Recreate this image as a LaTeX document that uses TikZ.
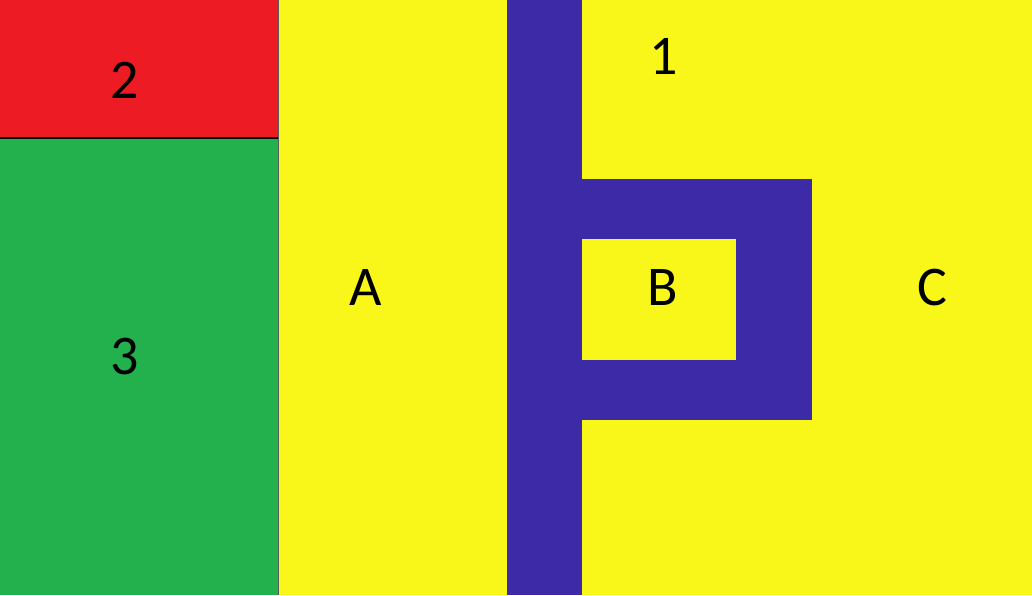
\documentclass[tikz,border=0pt]{standalone}
\usepackage{fontspec}
\setmainfont{Carlito}
\definecolor{cred}{HTML}{ED1C24}
\definecolor{cgreen}{HTML}{22B14C}
\definecolor{cyellow}{HTML}{F9F71A}
\definecolor{cblue}{HTML}{3D2AA6}
\tikzset{lbl/.style={font=\fontsize{56}{60}\selectfont, text=black, inner sep=0pt}}
\begin{document}
\begin{tikzpicture}[x=1pt,y=-1pt]
\useasboundingbox (0,0) rectangle (1032,595);
\fill[cyellow] (0,0) rectangle (1032,595);
\fill[cred] (0,0) rectangle (278,138);
\fill[cgreen] (0,138) rectangle (278,595);
\draw[black, line width=2pt] (0,138) -- (278,138);
\draw[gray!70!black, line width=0.6pt] (278,0) -- (278,595);
% blue shape
\fill[cblue] (507,0) rectangle (582,595);
\fill[cblue] (582,179) rectangle (812,239);
\fill[cblue] (736,179) rectangle (812,420);
\fill[cblue] (582,360) rectangle (812,420);
\node[lbl] (n2) at (125,80) {2};
\node[lbl] (n3) at (125,357) {3};
\node[lbl] (nA) at (366,288) {A};
\node[lbl] (nB) at (663,288) {B};
\node[lbl] (nC) at (932,288) {C};
\node[lbl] (n1) at (664,56) {1};
\end{tikzpicture}
\end{document}
